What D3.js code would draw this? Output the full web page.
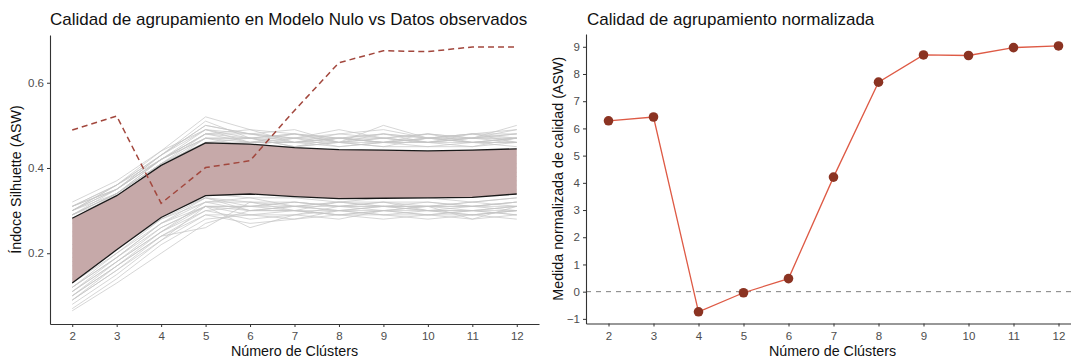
<!DOCTYPE html>
<html>
<head>
<meta charset="utf-8">
<script src="https://cdn.jsdelivr.net/npm/d3@7"></script>
<style>
  html, body { margin: 0; padding: 0; background: #fff; }
  svg { display: block; font-family: "Liberation Sans", Arial, sans-serif; }
</style>
</head>
<body>
<svg id="chart" width="1071" height="360"></svg>
<script>
// Number of clusters evaluated
const clusters = [2, 3, 4, 5, 6, 7, 8, 9, 10, 11, 12];
const xTicks = [2, 3, 4, 5, 6, 7, 8, 9, 10, 11, 12];

// Average silhouette width of the observed data
const observedASW = [0.489, 0.522, 0.317, 0.401, 0.417, 0.535, 0.647, 0.675, 0.673, 0.684, 0.684];

// Null-model envelope (upper / lower bound)
const nullUpper = [0.282, 0.335, 0.406, 0.459, 0.456, 0.448, 0.443, 0.442, 0.440, 0.442, 0.445];
const nullLower = [0.130, 0.208, 0.284, 0.335, 0.339, 0.333, 0.328, 0.329, 0.330, 0.331, 0.339];

// Individual null-model runs
const nullRuns = [
  [0.32, 0.37, 0.44, 0.52, 0.49, 0.48, 0.47, 0.48, 0.47, 0.48, 0.49],
  [0.31, 0.36, 0.43, 0.50, 0.48, 0.49, 0.46, 0.50, 0.47, 0.47, 0.48],
  [0.30, 0.36, 0.42, 0.49, 0.47, 0.47, 0.47, 0.47, 0.48, 0.46, 0.47],
  [0.31, 0.35, 0.42, 0.48, 0.49, 0.46, 0.48, 0.47, 0.46, 0.47, 0.48],
  [0.30, 0.35, 0.43, 0.49, 0.46, 0.48, 0.46, 0.46, 0.47, 0.48, 0.47],
  [0.29, 0.34, 0.41, 0.48, 0.48, 0.47, 0.49, 0.47, 0.46, 0.46, 0.47],
  [0.30, 0.35, 0.42, 0.47, 0.47, 0.46, 0.46, 0.48, 0.47, 0.47, 0.46],
  [0.29, 0.34, 0.41, 0.47, 0.46, 0.47, 0.45, 0.46, 0.46, 0.47, 0.47],
  [0.28, 0.34, 0.42, 0.48, 0.47, 0.45, 0.46, 0.45, 0.47, 0.46, 0.46],
  [0.29, 0.33, 0.41, 0.46, 0.46, 0.46, 0.47, 0.46, 0.45, 0.46, 0.46],
  [0.28, 0.33, 0.40, 0.47, 0.45, 0.47, 0.46, 0.47, 0.46, 0.45, 0.47],
  [0.31, 0.36, 0.43, 0.51, 0.47, 0.48, 0.46, 0.47, 0.48, 0.47, 0.50],
  [0.30, 0.34, 0.41, 0.46, 0.47, 0.45, 0.47, 0.46, 0.46, 0.48, 0.46],
  [0.28, 0.33, 0.40, 0.45, 0.46, 0.46, 0.45, 0.46, 0.47, 0.46, 0.45],
  [0.27, 0.32, 0.40, 0.46, 0.45, 0.45, 0.46, 0.45, 0.45, 0.45, 0.46],
  [0.31, 0.35, 0.43, 0.50, 0.48, 0.47, 0.48, 0.49, 0.47, 0.48, 0.48],
  [0.29, 0.35, 0.42, 0.48, 0.46, 0.46, 0.47, 0.46, 0.48, 0.47, 0.47],
  [0.30, 0.36, 0.44, 0.49, 0.48, 0.46, 0.47, 0.48, 0.46, 0.47, 0.49],
  [0.29, 0.34, 0.42, 0.47, 0.47, 0.48, 0.47, 0.46, 0.47, 0.46, 0.47],
  [0.25, 0.31, 0.38, 0.44, 0.43, 0.43, 0.42, 0.43, 0.42, 0.43, 0.43],
  [0.24, 0.30, 0.37, 0.42, 0.42, 0.41, 0.42, 0.41, 0.42, 0.42, 0.41],
  [0.22, 0.29, 0.36, 0.41, 0.40, 0.40, 0.41, 0.40, 0.40, 0.41, 0.40],
  [0.21, 0.27, 0.35, 0.40, 0.39, 0.39, 0.39, 0.40, 0.39, 0.38, 0.39],
  [0.20, 0.26, 0.34, 0.39, 0.38, 0.38, 0.37, 0.38, 0.38, 0.39, 0.38],
  [0.19, 0.25, 0.33, 0.38, 0.37, 0.36, 0.37, 0.36, 0.37, 0.36, 0.37],
  [0.18, 0.25, 0.32, 0.37, 0.36, 0.36, 0.35, 0.36, 0.35, 0.36, 0.36],
  [0.17, 0.24, 0.31, 0.36, 0.35, 0.35, 0.35, 0.34, 0.35, 0.35, 0.35],
  [0.14, 0.21, 0.29, 0.33, 0.32, 0.32, 0.31, 0.32, 0.32, 0.31, 0.32],
  [0.13, 0.20, 0.28, 0.32, 0.33, 0.31, 0.32, 0.31, 0.31, 0.32, 0.33],
  [0.12, 0.20, 0.27, 0.33, 0.31, 0.32, 0.31, 0.31, 0.32, 0.31, 0.31],
  [0.12, 0.19, 0.27, 0.32, 0.32, 0.30, 0.32, 0.32, 0.30, 0.31, 0.32],
  [0.11, 0.19, 0.26, 0.31, 0.31, 0.31, 0.30, 0.31, 0.31, 0.30, 0.31],
  [0.11, 0.18, 0.26, 0.31, 0.30, 0.31, 0.31, 0.30, 0.31, 0.31, 0.30],
  [0.10, 0.18, 0.25, 0.32, 0.30, 0.30, 0.30, 0.31, 0.30, 0.30, 0.31],
  [0.10, 0.17, 0.25, 0.30, 0.31, 0.30, 0.29, 0.30, 0.29, 0.30, 0.30],
  [0.09, 0.17, 0.24, 0.30, 0.28, 0.29, 0.30, 0.29, 0.30, 0.29, 0.30],
  [0.09, 0.16, 0.24, 0.29, 0.29, 0.30, 0.29, 0.30, 0.30, 0.30, 0.29],
  [0.08, 0.15, 0.23, 0.29, 0.27, 0.28, 0.30, 0.29, 0.28, 0.29, 0.28],
  [0.07, 0.14, 0.22, 0.28, 0.29, 0.29, 0.28, 0.30, 0.29, 0.28, 0.29],
  [0.065, 0.13, 0.20, 0.27, 0.30, 0.30, 0.29, 0.29, 0.29, 0.29, 0.30],
  [0.10, 0.17, 0.24, 0.26, 0.32, 0.31, 0.30, 0.30, 0.31, 0.31, 0.32],
  [0.11, 0.18, 0.25, 0.31, 0.26, 0.29, 0.31, 0.31, 0.30, 0.29, 0.30],
  [0.12, 0.19, 0.27, 0.31, 0.31, 0.32, 0.31, 0.32, 0.31, 0.32, 0.31],
  [0.13, 0.21, 0.28, 0.33, 0.30, 0.31, 0.32, 0.31, 0.31, 0.28, 0.31],
  [0.15, 0.22, 0.30, 0.34, 0.33, 0.33, 0.32, 0.33, 0.33, 0.32, 0.33],
  [0.09, 0.16, 0.23, 0.31, 0.29, 0.28, 0.29, 0.28, 0.29, 0.30, 0.29]
];

// Normalized clustering quality
const normalizedASW = [6.28, 6.42, -0.74, -0.04, 0.48, 4.21, 7.70, 8.70, 8.68, 8.97, 9.03];
const normTicks = [-1, 0, 1, 2, 3, 4, 5, 6, 7, 8, 9];
const asmTicks = [0.2, 0.4, 0.6];

const svg = d3.select("#chart");

function drawAxes(g, x, y, yTicks, yFmt) {
  const xAxis = d3.axisBottom(x).tickValues(xTicks).tickSize(3).tickSizeOuter(0)
    .tickPadding(5).tickFormat(d3.format("d"));
  const yAxis = d3.axisLeft(y).tickValues(yTicks).tickSize(3).tickSizeOuter(0)
    .tickPadding(3).tickFormat(yFmt);
  const gx = g.append("g").attr("transform", `translate(0,${y.range()[0]})`).call(xAxis);
  const gy = g.append("g").attr("transform", `translate(${x.range()[0]},0)`).call(yAxis);
  [gx, gy].forEach(a => {
    a.select(".domain").attr("stroke", "#333").attr("stroke-width", 1.1);
    a.selectAll(".tick line").attr("stroke", "#333").attr("stroke-width", 1);
    a.selectAll(".tick text").attr("fill", "#4d4d4d").style("font-size", "11.5px")
      .style("font-family", "'Liberation Sans', Arial, sans-serif");
  });
}

// ---------- Left panel: null model vs observed ----------
{
  const x = d3.scaleLinear().domain([1.5, 12.5]).range([50, 539]);
  const y = d3.scaleLinear().domain([0.034, 0.712]).range([324, 35]);
  const g = svg.append("g");

  const line = d3.line().x((d, i) => x(clusters[i])).y(d => y(d));

  g.append("g").selectAll("path").data(nullRuns).join("path")
    .attr("d", line)
    .attr("fill", "none")
    .attr("stroke", "#c4c4c4")
    .attr("stroke-opacity", 0.7)
    .attr("stroke-width", 1);

  const area = d3.area()
    .x((d, i) => x(clusters[i]))
    .y0((d, i) => y(nullLower[i]))
    .y1((d, i) => y(nullUpper[i]));
  g.append("path").datum(nullUpper).attr("d", area).attr("fill", "#c6a9a9");

  [nullUpper, nullLower].forEach(s => {
    g.append("path").datum(s).attr("d", line)
      .attr("fill", "none").attr("stroke", "#1a1a1a").attr("stroke-width", 1.3);
  });

  g.append("path").datum(observedASW).attr("d", line)
    .attr("fill", "none").attr("stroke", "#a2473d").attr("stroke-width", 1.5)
    .attr("stroke-dasharray", "6,4");

  drawAxes(g, x, y, asmTicks, d3.format(".1f"));

  g.append("text").attr("x", 50).attr("y", 25)
    .style("font-size", "17px").attr("fill", "#111")
    .text("Calidad de agrupamiento en Modelo Nulo vs Datos observados");
  g.append("text").attr("x", (50 + 539) / 2).attr("y", 356).attr("text-anchor", "middle")
    .style("font-size", "14.3px").attr("fill", "#111").text("Número de Clústers");
  g.append("text").attr("transform", `translate(21,${(324 + 35) / 2}) rotate(-90)`)
    .attr("text-anchor", "middle").style("font-size", "14.3px").attr("fill", "#111")
    .text("Índoce Silhuette (ASW)");
}

// ---------- Right panel: normalized quality ----------
{
  const x = d3.scaleLinear().domain([1.5, 12.5]).range([586, 1081]);
  const y = d3.scaleLinear().domain([-1.17, 9.47]).range([323.5, 34]);
  const g = svg.append("g");

  g.append("line")
    .attr("x1", x.range()[0]).attr("x2", x.range()[1])
    .attr("y1", y(0)).attr("y2", y(0))
    .attr("stroke", "#7f7f7f").attr("stroke-width", 1).attr("stroke-dasharray", "5,5");

  const line = d3.line().x((d, i) => x(clusters[i])).y(d => y(d));
  g.append("path").datum(normalizedASW).attr("d", line)
    .attr("fill", "none").attr("stroke", "#de5a45").attr("stroke-width", 1.3);

  g.append("g").selectAll("circle").data(normalizedASW).join("circle")
    .attr("cx", (d, i) => x(clusters[i]))
    .attr("cy", d => y(d))
    .attr("r", 4.8)
    .attr("fill", "#8b3322");

  drawAxes(g, x, y, normTicks, d3.format("d"));

  g.append("text").attr("x", 587).attr("y", 25)
    .style("font-size", "17px").attr("fill", "#111")
    .text("Calidad de agrupamiento normalizada");
  g.append("text").attr("x", (586 + 1071) / 2 + 4).attr("y", 356).attr("text-anchor", "middle")
    .style("font-size", "14.3px").attr("fill", "#111").text("Número de Clústers");
  g.append("text").attr("transform", `translate(563,${(323.5 + 34) / 2}) rotate(-90)`)
    .attr("text-anchor", "middle").style("font-size", "14.3px").attr("fill", "#111")
    .text("Medida normalizada de calidad (ASW)");
}
</script>
</body>
</html>
